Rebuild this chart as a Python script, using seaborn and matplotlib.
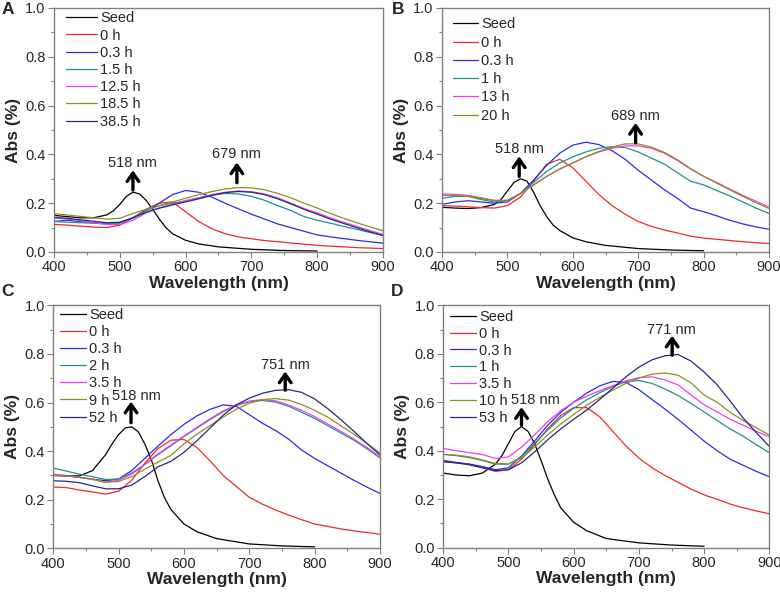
import numpy as np
import pandas as pd
import matplotlib
matplotlib.use("Agg")
import matplotlib.pyplot as plt
from matplotlib.ticker import MultipleLocator
import seaborn as sns

# Wavelength grids (nm): growth curves on a 20 nm grid, seed curve sampled finer round its peak
WL = [400, 420, 440, 460, 480, 500, 520, 540, 560, 580, 600, 620, 640,
      660, 680, 700, 720, 740, 760, 780, 800, 820, 840, 860, 880, 900]
WL_SEED = [400, 420, 440, 460, 480, 490, 500, 510, 520, 530, 540, 550,
           560, 570, 580, 600, 620, 650, 700, 750, 800]

# ---- Panel A ----
A_LABELS = ["Seed", "0 h", "0.3 h", "1.5 h", "12.5 h", "18.5 h", "38.5 h"]
A_SEED = [0.150, 0.145, 0.140, 0.140, 0.152, 0.168, 0.195, 0.228, 0.245, 0.238, 0.212,
          0.175, 0.135, 0.100, 0.075, 0.048, 0.033, 0.021, 0.011, 0.006, 0.004]
A_0H = [0.113, 0.110, 0.106, 0.102, 0.100, 0.110, 0.140, 0.175, 0.200, 0.205, 0.165, 0.125, 0.095,
        0.075, 0.062, 0.054, 0.047, 0.042, 0.037, 0.032, 0.027, 0.024, 0.021, 0.018, 0.016, 0.014]
A_03H = [0.125, 0.130, 0.125, 0.120, 0.115, 0.120, 0.140, 0.170, 0.200, 0.235, 0.252, 0.245, 0.225,
         0.200, 0.177, 0.155, 0.135, 0.115, 0.100, 0.085, 0.070, 0.062, 0.055, 0.048, 0.042, 0.036]
A_15H = [0.125, 0.122, 0.120, 0.118, 0.115, 0.118, 0.140, 0.170, 0.190, 0.200, 0.210, 0.222, 0.233,
         0.240, 0.238, 0.228, 0.212, 0.190, 0.170, 0.145, 0.130, 0.118, 0.105, 0.093, 0.080, 0.068]
A_125H = [0.140, 0.135, 0.128, 0.120, 0.113, 0.112, 0.130, 0.160, 0.180, 0.195, 0.210, 0.222, 0.235,
          0.245, 0.250, 0.247, 0.238, 0.222, 0.200, 0.178, 0.160, 0.140, 0.122, 0.105, 0.088, 0.072]
A_185H = [0.157, 0.152, 0.146, 0.140, 0.135, 0.138, 0.158, 0.175, 0.190, 0.205, 0.220, 0.235, 0.248,
          0.258, 0.264, 0.263, 0.255, 0.240, 0.222, 0.200, 0.180, 0.158, 0.138, 0.120, 0.103, 0.087]
A_385H = [0.142, 0.138, 0.132, 0.126, 0.120, 0.122, 0.140, 0.163, 0.180, 0.193, 0.205, 0.218, 0.232,
          0.243, 0.248, 0.245, 0.235, 0.218, 0.197, 0.175, 0.155, 0.135, 0.117, 0.100, 0.083, 0.067]

# ---- Panel B ----
B_LABELS = ["Seed", "0 h", "0.3 h", "1 h", "13 h", "20 h"]
B_SEED = [0.183, 0.180, 0.178, 0.182, 0.195, 0.215, 0.250, 0.285, 0.300, 0.290, 0.245,
          0.190, 0.145, 0.110, 0.088, 0.058, 0.042, 0.027, 0.014, 0.008, 0.005]
B_0H = [0.190, 0.188, 0.185, 0.182, 0.180, 0.190, 0.225, 0.290, 0.360, 0.380, 0.345, 0.290, 0.235,
        0.190, 0.155, 0.125, 0.105, 0.090, 0.078, 0.065, 0.057, 0.052, 0.047, 0.042, 0.038, 0.035]
B_03H = [0.195, 0.205, 0.210, 0.205, 0.200, 0.205, 0.240, 0.295, 0.355, 0.405, 0.438, 0.450, 0.440,
         0.415, 0.380, 0.335, 0.295, 0.255, 0.220, 0.180, 0.165, 0.148, 0.130, 0.115, 0.103, 0.093]
B_1H = [0.220, 0.228, 0.228, 0.215, 0.205, 0.210, 0.240, 0.285, 0.330, 0.365, 0.390, 0.410, 0.425,
        0.432, 0.428, 0.410, 0.385, 0.360, 0.325, 0.290, 0.275, 0.252, 0.230, 0.205, 0.180, 0.158]
B_13H = [0.238, 0.236, 0.232, 0.222, 0.212, 0.212, 0.240, 0.275, 0.310, 0.340, 0.365, 0.390, 0.410,
         0.425, 0.435, 0.435, 0.425, 0.405, 0.375, 0.340, 0.310, 0.285, 0.258, 0.232, 0.208, 0.185]
B_20H = [0.232, 0.232, 0.228, 0.220, 0.210, 0.210, 0.240, 0.275, 0.310, 0.340, 0.365, 0.390, 0.412,
         0.430, 0.443, 0.443, 0.430, 0.408, 0.378, 0.342, 0.310, 0.282, 0.255, 0.228, 0.202, 0.178]

# ---- Panel C ----
C_LABELS = ["Seed", "0 h", "0.3 h", "2 h", "3.5 h", "9 h", "52 h"]
C_SEED = [0.300, 0.298, 0.298, 0.320, 0.385, 0.430, 0.468, 0.495, 0.500, 0.480, 0.430,
          0.365, 0.280, 0.210, 0.160, 0.100, 0.068, 0.040, 0.018, 0.010, 0.006]
C_0H = [0.252, 0.250, 0.240, 0.232, 0.223, 0.235, 0.280, 0.350, 0.410, 0.445, 0.448, 0.415, 0.360,
        0.300, 0.255, 0.210, 0.182, 0.158, 0.137, 0.118, 0.100, 0.090, 0.080, 0.072, 0.065, 0.058]
C_03H = [0.300, 0.298, 0.292, 0.285, 0.278, 0.285, 0.320, 0.370, 0.420, 0.468, 0.510, 0.545, 0.572,
         0.590, 0.585, 0.550, 0.515, 0.485, 0.450, 0.405, 0.370, 0.340, 0.310, 0.280, 0.252, 0.226]
C_2H = [0.330, 0.318, 0.305, 0.295, 0.283, 0.285, 0.310, 0.345, 0.385, 0.422, 0.460, 0.495, 0.530,
        0.562, 0.588, 0.603, 0.608, 0.602, 0.585, 0.560, 0.535, 0.505, 0.475, 0.445, 0.410, 0.372]
C_35H = [0.300, 0.298, 0.292, 0.285, 0.272, 0.280, 0.305, 0.345, 0.388, 0.425, 0.462, 0.498, 0.533,
         0.565, 0.590, 0.606, 0.612, 0.607, 0.590, 0.568, 0.542, 0.512, 0.482, 0.450, 0.415, 0.378]
C_9H = [0.305, 0.300, 0.292, 0.283, 0.272, 0.275, 0.295, 0.325, 0.355, 0.382, 0.430, 0.470, 0.505,
        0.540, 0.572, 0.597, 0.612, 0.616, 0.610, 0.592, 0.568, 0.540, 0.505, 0.470, 0.432, 0.392]
C_52H = [0.278, 0.276, 0.270, 0.257, 0.245, 0.245, 0.260, 0.295, 0.335, 0.358, 0.395, 0.443, 0.495,
         0.548, 0.590, 0.618, 0.638, 0.650, 0.653, 0.642, 0.615, 0.575, 0.530, 0.482, 0.432, 0.385]

# ---- Panel D ----
D_LABELS = ["Seed", "0 h", "0.3 h", "1 h", "3.5 h", "10 h", "53 h"]
D_SEED = [0.308, 0.300, 0.297, 0.308, 0.345, 0.380, 0.430, 0.480, 0.500, 0.480, 0.430,
          0.360, 0.285, 0.220, 0.165, 0.105, 0.070, 0.038, 0.020, 0.011, 0.006]
D_0H = [0.355, 0.350, 0.345, 0.330, 0.315, 0.322, 0.365, 0.425, 0.490, 0.545, 0.578, 0.578, 0.540,
        0.480, 0.420, 0.370, 0.330, 0.298, 0.270, 0.242, 0.218, 0.200, 0.180, 0.165, 0.152, 0.140]
D_03H = [0.360, 0.352, 0.345, 0.335, 0.322, 0.330, 0.378, 0.440, 0.505, 0.558, 0.600, 0.638, 0.668,
         0.686, 0.682, 0.652, 0.612, 0.572, 0.530, 0.485, 0.440, 0.400, 0.365, 0.340, 0.315, 0.293]
D_1H = [0.385, 0.380, 0.372, 0.360, 0.345, 0.345, 0.375, 0.430, 0.485, 0.535, 0.575, 0.610, 0.640,
        0.665, 0.685, 0.690, 0.678, 0.655, 0.628, 0.595, 0.560, 0.525, 0.490, 0.460, 0.425, 0.392]
D_35H = [0.410, 0.400, 0.392, 0.385, 0.368, 0.375, 0.415, 0.465, 0.520, 0.565, 0.600, 0.625, 0.648,
         0.668, 0.688, 0.702, 0.705, 0.692, 0.672, 0.630, 0.590, 0.560, 0.530, 0.505, 0.480, 0.458]
D_10H = [0.385, 0.382, 0.375, 0.362, 0.348, 0.345, 0.370, 0.415, 0.465, 0.510, 0.550, 0.588, 0.620,
         0.650, 0.678, 0.700, 0.716, 0.721, 0.712, 0.680, 0.630, 0.600, 0.558, 0.525, 0.495, 0.465]
D_53H = [0.355, 0.350, 0.342, 0.330, 0.318, 0.322, 0.350, 0.395, 0.445, 0.490, 0.530, 0.568, 0.612,
         0.658, 0.705, 0.745, 0.775, 0.792, 0.797, 0.770, 0.725, 0.672, 0.605, 0.535, 0.475, 0.418]

# Peak markers: (text, arrow wavelength, arrow base, arrow tip, text wavelength, text height)
A_PEAKS = [("518 nm", 520, 0.254, 0.335, 520, 0.365), ("679 nm", 678, 0.284, 0.367, 678, 0.40)]
B_PEAKS = [("518 nm", 518, 0.310, 0.392, 518, 0.422), ("689 nm", 696, 0.448, 0.529, 695, 0.559)]
C_PEAKS = [("518 nm", 519, 0.517, 0.604, 528, 0.627), ("751 nm", 755, 0.651, 0.728, 755, 0.753)]
D_PEAKS = [("518 nm", 520, 0.506, 0.580, 541, 0.608), ("771 nm", 751, 0.794, 0.875, 750, 0.900)]

COLORS = ["#000000", "#f02a2a", "#2c2ce6", "#1f9090", "#f03cf0", "#8f8f1e", "#28287e"]

sns.set_theme(style="white")
plt.rcParams["font.family"] = ["Liberation Sans", "DejaVu Sans"]


def long_frame(labels, curves):
    parts = []
    for lab, ys in zip(labels, curves):
        xs = WL_SEED if lab == "Seed" else WL
        parts.append(pd.DataFrame({"wl": xs, "abs": ys, "sample": lab}))
    return pd.concat(parts, ignore_index=True)


# letter, axes rect, letter position (px), legend (anchor x, anchor y, handle length, spacing)
panels = [
    ("A", [0.0692, 0.5772, 0.4218, 0.4094], (8, 10), (0.019, 1.010, 2.13, 0.22), A_LABELS,
     [A_SEED, A_0H, A_03H, A_15H, A_125H, A_185H, A_385H], A_PEAKS),
    ("B", [0.5667, 0.5772, 0.4192, 0.4094], (398, 10), (0.016, 0.985, 1.72, 0.29), B_LABELS,
     [B_SEED, B_0H, B_03H, B_1H, B_13H, B_20H], B_PEAKS),
    ("C", [0.0683, 0.0800, 0.4188, 0.4077], (8, 291), (0.004, 1.012, 1.78, 0.21), C_LABELS,
     [C_SEED, C_0H, C_03H, C_2H, C_35H, C_9H, C_52H], C_PEAKS),
    ("D", [0.5683, 0.0810, 0.4180, 0.4067], (397, 291), (0.004, 1.006, 1.78, 0.2), D_LABELS,
     [D_SEED, D_0H, D_03H, D_1H, D_35H, D_10H, D_53H], D_PEAKS),
]

fig = plt.figure(figsize=(7.8, 5.96), dpi=100)

for letter, rect, lpos, leg, labels, curves, peaks in panels:
    ax = fig.add_axes(rect)
    df = long_frame(labels, curves)
    sns.lineplot(data=df, x="wl", y="abs", hue="sample", hue_order=labels,
                 palette=COLORS[:len(labels)], sort=False, linewidth=0.9,
                 estimator=None, ax=ax)

    ax.set_xlim(400, 900)
    ax.set_ylim(0, 1.0)
    ax.xaxis.set_major_locator(MultipleLocator(100))
    ax.xaxis.set_minor_locator(MultipleLocator(50))
    ax.yaxis.set_major_locator(MultipleLocator(0.2))
    ax.yaxis.set_minor_locator(MultipleLocator(0.1))
    ax.yaxis.set_major_formatter(matplotlib.ticker.FormatStrFormatter("%.1f"))
    ax.tick_params(which="both", bottom=True, left=True, direction="out",
                   color="#808080", width=0.8, labelsize=10.5, pad=2)
    ax.tick_params(which="major", length=4)
    ax.tick_params(which="minor", length=2.5)
    for sp in ax.spines.values():
        sp.set_color("#808080")
        sp.set_linewidth(1.0)

    ax.set_xlabel("Wavelength (nm)", fontsize=12.5, fontweight="bold", labelpad=1)
    ax.set_ylabel("Abs (%)", fontsize=12.5, fontweight="bold", labelpad=3)

    sns.move_legend(ax, "upper left", bbox_to_anchor=(leg[0], leg[1]), frameon=False,
                    title=None, fontsize=10.5, handlelength=leg[2], handletextpad=0.2,
                    labelspacing=leg[3], borderaxespad=0.0)

    for text, ax_wl, y0, y1, t_wl, ty in peaks:
        ax.annotate("", xy=(ax_wl, y1), xytext=(ax_wl, y0),
                    arrowprops=dict(arrowstyle="->,head_width=0.35,head_length=0.5",
                                    lw=2.4, color="black", shrinkA=0, shrinkB=0))
        ax.text(t_wl, ty, text, ha="center", va="center", fontsize=10.5)

    fig.text(lpos[0] / 780, 1 - lpos[1] / 596, letter, ha="center", va="center",
             fontsize=12.5, fontweight="bold")

fig.savefig("out.png", dpi=100)
